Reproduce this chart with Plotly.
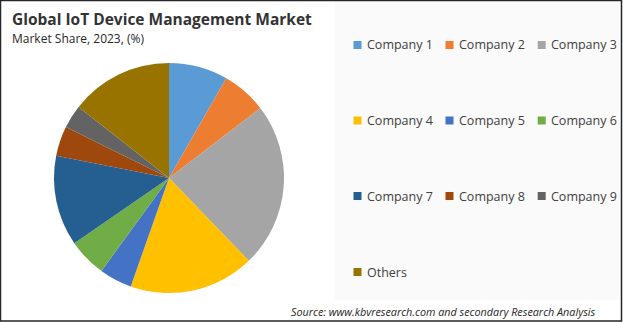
import plotly.graph_objects as go

# ---- data ----
labels = ["Company 1", "Company 2", "Company 3", "Company 4", "Company 5",
          "Company 6", "Company 7", "Company 8", "Company 9", "Others"]
shares = [8.3, 6.3, 23.2, 17.6, 4.6, 5.4, 12.7, 4.2, 3.3, 14.4]
colors = ["#5B9BD5", "#ED7D31", "#A5A5A5", "#FFC000", "#4472C4",
          "#70AD47", "#255E91", "#9E480E", "#636363", "#997300"]

title_text = "Global IoT Device Management Market"
subtitle_text = "Market Share, 2023, (%)"
source_text = "Source: www.kbvresearch.com and secondary Research Analysis"

W, H = 623, 322
FONT = "Open Sans"


def px(x):
    return x / W


def py(y):
    return 1 - y / H


fig = go.Figure()
fig.add_trace(go.Pie(
    labels=labels, values=shares, sort=False, direction="clockwise",
    rotation=0, textinfo="none", hoverinfo="label+percent",
    marker=dict(colors=colors, line=dict(width=0)),
    domain=dict(x=[px(54), px(284)], y=[py(293), py(63)]),
    showlegend=False,
))

shapes = []
annotations = []

# light panel behind legend
shapes.append(dict(type="rect", xref="paper", yref="paper",
                   x0=px(335), x1=px(621), y0=py(300), y1=py(2),
                   fillcolor="#FAFAFA", line=dict(width=0), layer="below"))

# manual legend: 3 columns
col_x = [353.5, 445.5, 537.7]
row_y = [45, 120.5, 196, 272]
for i, (lab, col) in enumerate(zip(labels, colors)):
    c, r = i % 3, i // 3
    x0, yc = col_x[c], row_y[r]
    shapes.append(dict(type="rect", xref="paper", yref="paper",
                       x0=px(x0), x1=px(x0 + 8), y0=py(yc + 4), y1=py(yc - 4),
                       fillcolor=col, line=dict(width=0)))
    annotations.append(dict(text=lab, xref="paper", yref="paper",
                            x=px(x0 + 11.5), y=py(yc), xanchor="left",
                            yanchor="middle", showarrow=False,
                            font=dict(family=FONT, size=12.5, color="#404040")))

# title / subtitle / source
annotations.append(dict(text="<b>" + title_text + "</b>", xref="paper", yref="paper",
                        x=px(10), y=py(19), xanchor="left", yanchor="middle",
                        showarrow=False,
                        font=dict(family=FONT, size=15.5, color="#333333")))
annotations.append(dict(text=subtitle_text, xref="paper", yref="paper",
                        x=px(10), y=py(38), xanchor="left", yanchor="middle",
                        showarrow=False,
                        font=dict(family=FONT, size=12, color="#262626")))
annotations.append(dict(text="<i>" + source_text + "</i>", xref="paper", yref="paper",
                        x=px(598), y=py(311), xanchor="right", yanchor="middle",
                        showarrow=False,
                        font=dict(family=FONT, size=10.8, color="#262626")))

# outer border
shapes.append(dict(type="rect", xref="paper", yref="paper",
                   x0=px(0.5), x1=px(621.5), y0=py(321), y1=py(0.5),
                   line=dict(color="#262626", width=1.5)))

fig.update_layout(
    width=W, height=H, margin=dict(l=0, r=0, t=0, b=0),
    paper_bgcolor="#FFFFFF", plot_bgcolor="#FFFFFF",
    shapes=shapes, annotations=annotations, showlegend=False,
)

fig.write_html("out.html")
